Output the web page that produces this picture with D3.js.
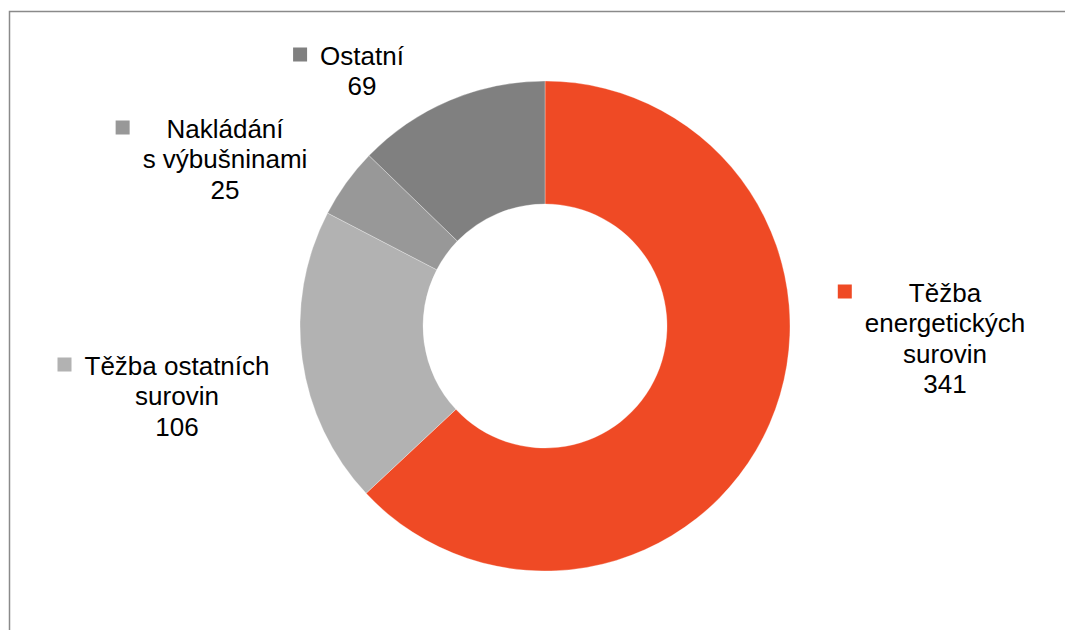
<!DOCTYPE html>
<html>
<head>
<meta charset="utf-8">
<script src="https://cdn.jsdelivr.net/npm/d3@7"></script>
<style>
  html, body { margin: 0; padding: 0; background: #fff; }
  svg { display: block; }
  text { font-family: "Liberation Sans", Arial, sans-serif; font-size: 26px; fill: #000; }
</style>
</head>
<body>
<svg width="1065" height="630"></svg>
<script>
// categories and values, clockwise from 12 o'clock
var categories = ["Těžba energetických surovin", "Těžba ostatních surovin", "Nakládání s výbušninami", "Ostatní"];
var values = [341, 106, 25, 69];
// how each label breaks into lines (value goes on the last line)
var labelLines = [
  ["Těžba", "energetických", "surovin"],
  ["Těžba ostatních", "surovin"],
  ["Nakládání", "s výbušninami"],
  ["Ostatní"]
];

// colours and label placement (text centre x, first baseline y)
var colors = ["#ef4a25", "#b2b2b2", "#989898", "#808080"];
var labelPos = [[945, 302], [177, 375], [225, 138], [362, 65]];

var svg = d3.select("svg"),
    width = 1065,
    height = 630;

var cx = 545, cy = 326,
    outerR = 245,
    innerR = 122,
    lineH = 30.4;

// chart frame (runs off the right and bottom)
svg.append("rect")
  .attr("x", 9.5)
  .attr("y", 11.5)
  .attr("width", 1200)
  .attr("height", 800)
  .attr("fill", "none")
  .attr("stroke", "#8a8a8a")
  .attr("stroke-width", 1.5);

var pie = d3.pie()
  .sort(null)
  .value(function(d) { return d; });

var arc = d3.arc()
  .innerRadius(innerR)
  .outerRadius(outerR);

var g = svg.append("g")
  .attr("transform", "translate(" + cx + "," + cy + ")");

g.selectAll("path")
  .data(pie(values))
  .enter()
  .append("path")
  .attr("d", arc)
  .attr("fill", function(d, i) { return colors[i]; })
  .attr("stroke", "#fff")
  .attr("stroke-opacity", 0.5)
  .attr("stroke-width", 0.6);

// data labels with legend key
categories.forEach(function(c, i) {
  var lines = labelLines[i].concat([String(values[i])]);
  var lg = svg.append("g");

  var t = lg.append("text")
    .attr("text-anchor", "middle");

  lines.forEach(function(s, j) {
    t.append("tspan")
      .attr("x", labelPos[i][0])
      .attr("y", labelPos[i][1] + j * lineH)
      .text(s);
  });

  var maxW = 0;
  t.selectAll("tspan").each(function() {
    maxW = Math.max(maxW, this.getComputedTextLength());
  });

  lg.append("rect")
    .attr("x", labelPos[i][0] - maxW / 2 - 27)
    .attr("y", labelPos[i][1] - 17.5)
    .attr("width", 14)
    .attr("height", 14)
    .attr("fill", colors[i]);
});
</script>
</body>
</html>
